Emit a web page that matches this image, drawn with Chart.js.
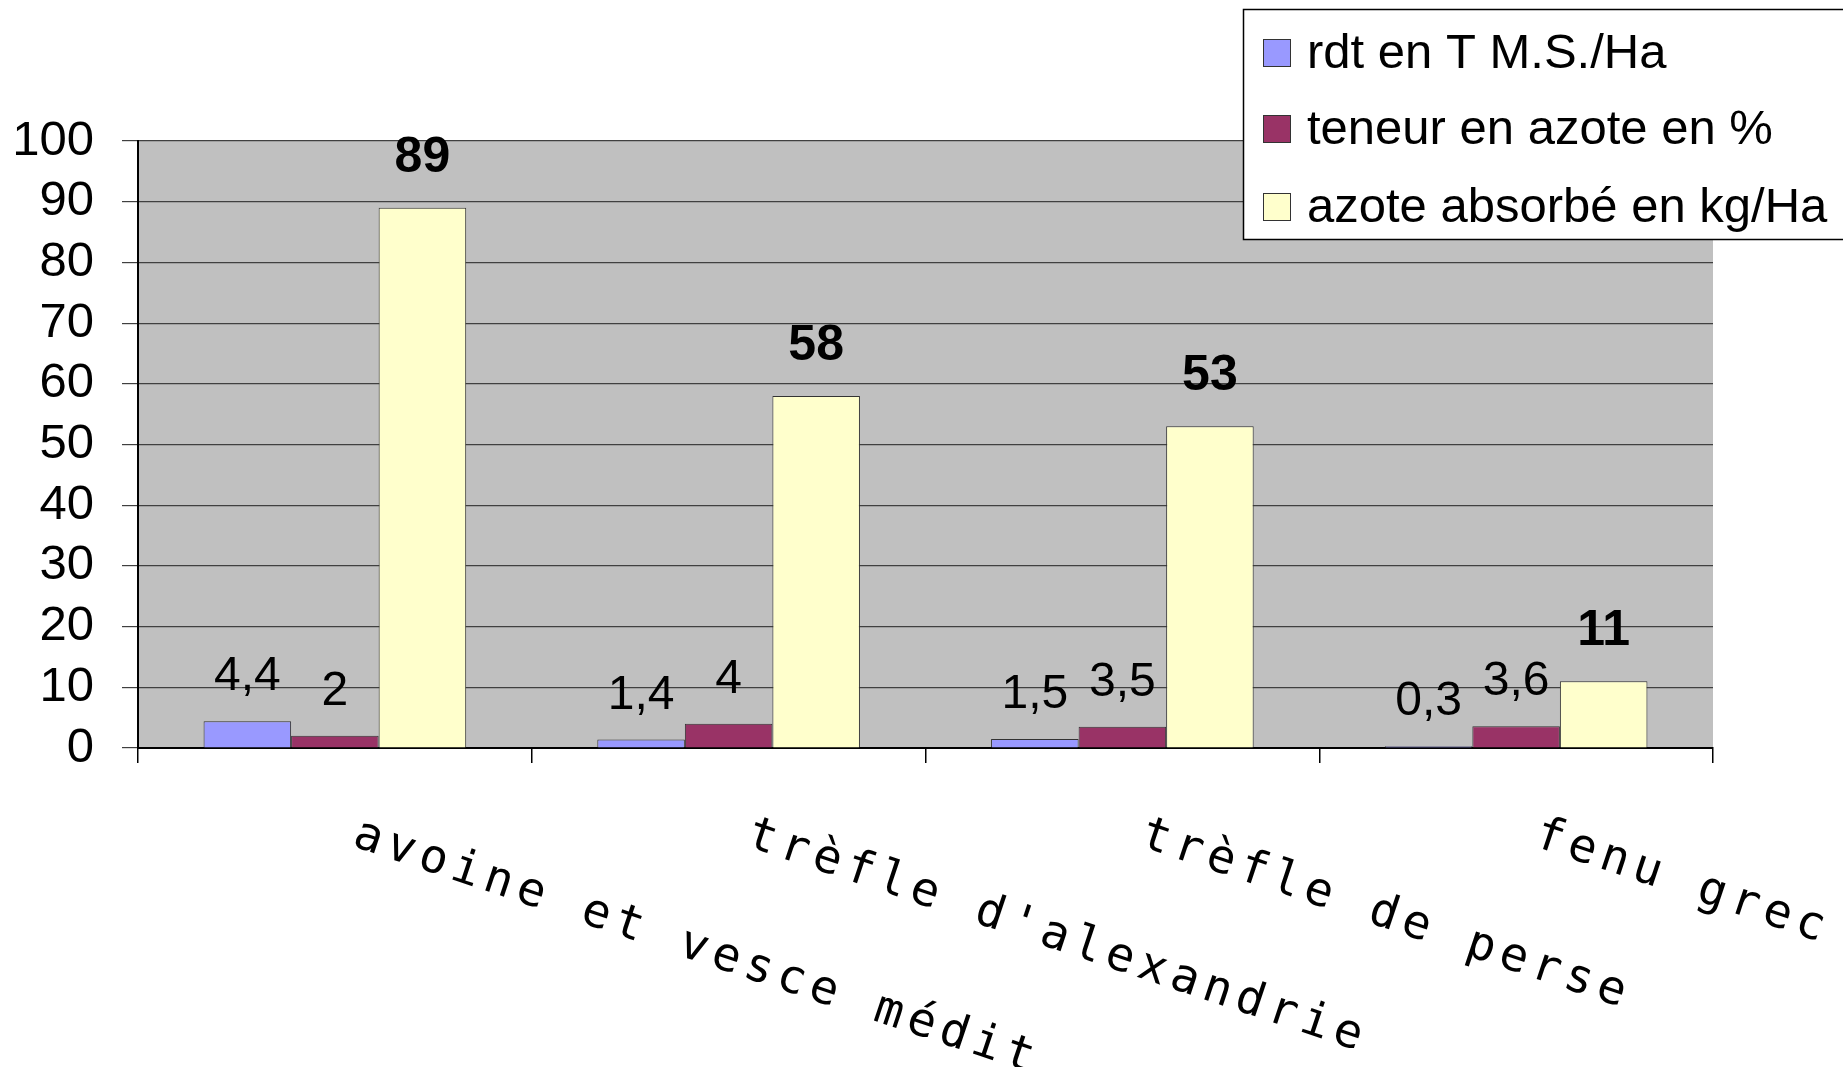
<!DOCTYPE html>
<html>
<head>
<meta charset="utf-8">
<script src="https://cdn.jsdelivr.net/npm/chart.js@4.4.0/dist/chart.umd.min.js"></script>
<style>
  body { margin: 0; background: #fff; }
  canvas { display: block; }
</style>
</head>
<body>
<canvas id="chart" width="1843" height="1067"></canvas>
<script>
const categories = ['avoine et vesce médit.', "trèfle d'alexandrie", 'trèfle de perse', 'fenu grec'];
const seriesNames = ['rdt en T M.S./Ha', 'teneur en azote en %', 'azote absorbé en kg/Ha'];
const rdt = [4.4, 1.4, 1.5, 0.3];
const teneur = [2, 4, 3.5, 3.6];
const azote = [89, 58, 53, 11];
const colors = ['#9999FF', '#993366', '#FFFFCC'];

const fmt = v => String(v).replace('.', ',');

// grey plot background
const plotBg = {
    id: 'plotBg',
    beforeDraw(chart) {
        const a = chart.chartArea;
        const ctx = chart.ctx;
        ctx.save();
        ctx.fillStyle = '#C0C0C0';
        ctx.fillRect(a.left, a.top, a.right - a.left, a.bottom - a.top);
        ctx.restore();
    }
};

// values above bars, last series in bold
const valueLabels = {
    id: 'valueLabels',
    afterDatasetsDraw(chart) {
        const ctx = chart.ctx;
        ctx.save();
        ctx.fillStyle = '#000';
        ctx.textAlign = 'center';
        ctx.textBaseline = 'alphabetic';
        chart.data.datasets.forEach((ds, di) => {
            const meta = chart.getDatasetMeta(di);
            const bold = di == 2;
            ctx.font = bold ? 'bold 50px "Liberation Sans"' : '48px "Liberation Sans"';
            meta.data.forEach((bar, i) => {
                ctx.fillText(fmt(ds.data[i]), bar.x, bar.y - (bold ? 36 : 31));
            });
        });
        ctx.restore();
    }
};

// slanted category labels going down to the right
const catLabels = {
    id: 'catLabels',
    afterDraw(chart) {
        const ctx = chart.ctx;
        const x = chart.scales.x;
        ctx.save();
        ctx.fillStyle = '#000';
        ctx.font = '47px "DejaVu Sans Mono"';
        ctx.letterSpacing = '6px';
        ctx.textAlign = 'left';
        ctx.textBaseline = 'middle';
        categories.forEach((c, i) => {
            ctx.save();
            ctx.translate(x.getPixelForValue(i) + 20, 834);
            ctx.rotate(18.5 * Math.PI / 180);
            ctx.fillText(c, 0, 0);
            ctx.restore();
        });
        ctx.restore();
    }
};

// boxed legend in the top right corner, over the plot
const boxLegend = {
    id: 'boxLegend',
    afterDraw(chart) {
        const ctx = chart.ctx;
        ctx.save();
        ctx.fillStyle = '#fff';
        ctx.fillRect(1243, 9, 620, 230);
        ctx.strokeStyle = '#000';
        ctx.lineWidth = 1.5;
        ctx.strokeRect(1243.5, 9.5, 620, 230);
        ctx.font = '49px "Liberation Sans"';
        ctx.textAlign = 'left';
        ctx.textBaseline = 'middle';
        const ys = [52, 128, 206];
        chart.data.datasets.forEach((ds, i) => {
            ctx.fillStyle = ds.backgroundColor;
            ctx.fillRect(1263, ys[i] - 13, 27, 27);
            ctx.strokeStyle = '#333';
            ctx.lineWidth = 1;
            ctx.strokeRect(1263.5, ys[i] - 12.5, 27, 27);
            ctx.fillStyle = '#000';
            ctx.fillText(ds.label, 1307, ys[i] + 2);
        });
        ctx.restore();
    }
};

const datasets = [rdt, teneur, azote].map((d, i) => ({
    label: seriesNames[i],
    data: d,
    backgroundColor: colors[i],
    borderColor: '#333',
    borderWidth: 1,
    categoryPercentage: 0.667,
    barPercentage: 1.0
}));

new Chart(document.getElementById('chart'), {
    type: 'bar',
    data: { labels: categories, datasets: datasets },
    options: {
        responsive: false,
        animation: false,
        devicePixelRatio: 1,
        layout: { padding: { top: 141, right: 130, left: 0, bottom: 0 } },
        plugins: {
            legend: { display: false },
            tooltip: { enabled: false }
        },
        scales: {
            x: {
                ticks: { display: false },
                grid: {
                    drawOnChartArea: false,
                    drawTicks: true,
                    tickLength: 15,
                    color: '#000',
                    lineWidth: 1.5,
                    offset: true
                },
                border: { color: '#000', width: 2 },
                afterFit(scale) { scale.height = 319; }
            },
            y: {
                min: 0,
                max: 100,
                ticks: {
                    stepSize: 10,
                    autoSkip: false,
                    maxTicksLimit: 11,
                    padding: 28,
                    color: '#000',
                    font: { family: 'Liberation Sans', size: 49, lineHeight: 1 }
                },
                grid: {
                    color: '#404040',
                    lineWidth: 1.2,
                    tickLength: 16
                },
                border: { color: '#000', width: 2 },
                afterFit(scale) { scale.width = 138; }
            }
        }
    },
    plugins: [plotBg, valueLabels, catLabels, boxLegend]
});
</script>
</body>
</html>
